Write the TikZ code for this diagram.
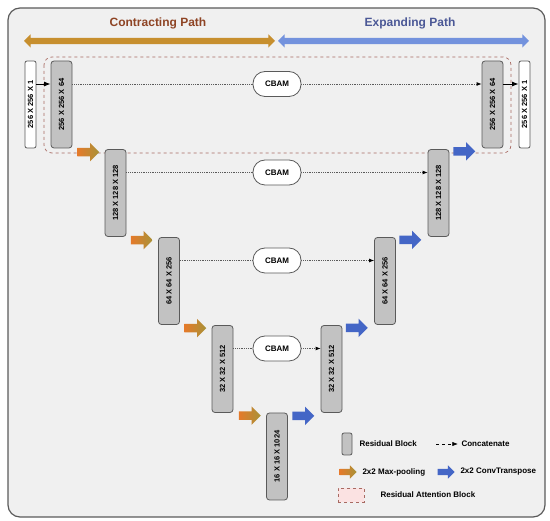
\documentclass[tikz,border=0pt]{standalone}
\usepackage{fontspec}
\setmainfont{Liberation Sans}
\usetikzlibrary{arrows.meta,positioning,shapes.arrows}
\definecolor{Fondo}{HTML}{F0F0F0}
\definecolor{Borde}{HTML}{5A5A5A}
\definecolor{Bloque}{HTML}{C2C2C2}
\definecolor{Naranja}{HTML}{E57A2A}
\definecolor{Oliva}{HTML}{A89238}
\definecolor{Azul}{HTML}{4466C6}
\definecolor{AzulClaro}{HTML}{7392DD}
\definecolor{Dorado}{HTML}{C78F2E}
\definecolor{Marron}{HTML}{8E4424}
\definecolor{AzulTitulo}{HTML}{4B5896}
\definecolor{Rosa}{HTML}{FBE2E2}
\definecolor{RojoAtencion}{HTML}{A86A62}

\begin{document}
\begin{tikzpicture}[
  x=1pt,y=-1pt,
  >=Latex,
  every node/.style={font=\bfseries\fontsize{7.5}{9}\selectfont},
  legend/.style={anchor=west,font=\bfseries\fontsize{8}{9}\selectfont},
  resblock/.style={draw=Borde,fill=Bloque,rounded corners=3pt,line width=0.8pt,
    minimum width=21pt,minimum height=87pt,inner sep=0pt},
  iobox/.style={resblock,fill=white,minimum width=11pt,rounded corners=2pt},
  cbam/.style={draw=Borde,fill=white,line width=0.8pt,rounded corners=12pt,
    minimum width=48pt,minimum height=25pt,inner sep=0pt,font=\bfseries\fontsize{8}{9}\selectfont},
  concat/.style={densely dotted,line width=0.8pt,draw=Borde,
    -{Latex[length=5pt,width=4pt,color=black]}},
  fatarrow/.style={single arrow,inner xsep=0pt,inner ysep=4pt,minimum height=22pt,
    single arrow head extend=5pt},
  pool/.style={fatarrow,left color=Naranja,right color=Oliva},
  upconv/.style={fatarrow,fill=Azul},
  pathbar/.style={double arrow,inner xsep=0pt,inner ysep=3pt,minimum height=251pt,
    double arrow head extend=3.5pt}
]
  \useasboundingbox (0,0) rectangle (550,521);
  \draw[rounded corners=12pt,line width=1.2pt,draw=Borde,fill=Fondo] (8,8) rectangle (545,517);

  % Titulos y flechas de los caminos.
  \node[font=\bfseries\fontsize{12}{14}\selectfont,text=Marron] (tcont) at (158,23) {Contracting Path};
  \node[font=\bfseries\fontsize{12}{14}\selectfont,text=AzulTitulo] (texp) at (410,23) {Expanding Path};
  \node[pathbar,fill=Dorado] (pcont) at (149.5,41) {};
  \node[pathbar,fill=AzulClaro] (pexp) at (403.5,41) {};

  % Bloque de atencion residual del primer nivel.
  \draw[dashed,draw=RojoAtencion,line width=0.7pt,rounded corners=8pt] (44,57) rectangle (511,153);

  % Camino de contraccion.
  \node[iobox,label={[rotate=90]center:256 X 256 X 1}] (in) at (30.5,104.5) {};
  \node[resblock,label={[rotate=90]center:256 X 256 X 64}] (b1) at (61.5,104.5) {};
  \node[resblock,label={[rotate=90]center:128 X 128 X 128}] (b2) at (115.5,193) {};
  \node[resblock,label={[rotate=90]center:64 X 64 X 256}] (b3) at (169,281) {};
  \node[resblock,label={[rotate=90]center:32 X 32 X 512}] (b4) at (222.5,369) {};
  \node[resblock,label={[rotate=90]center:16 X 16 X 1024}] (b5) at (277,456.5) {};

  % Camino de expansion.
  \node[resblock,label={[rotate=90]center:32 X 32 X 512}] (rb4) at (331.5,369) {};
  \node[resblock,label={[rotate=90]center:64 X 64 X 256}] (rb3) at (385,281) {};
  \node[resblock,label={[rotate=90]center:128 X 128 X 128}] (rb2) at (438.5,193) {};
  \node[resblock,label={[rotate=90]center:256 X 256 X 64}] (rb1) at (492.5,104.5) {};
  \node[iobox,label={[rotate=90]center:256 X 256 X 1}] (out) at (524.5,104.5) {};

  \node[pool,left=5pt of b2.north west,yshift=-3pt] (p1) {};
  \node[pool,left=5pt of b3.north west,yshift=-3pt] (p2) {};
  \node[pool,left=5pt of b4.north west,yshift=-3pt] (p3) {};
  \node[pool,left=5pt of b5.north west,yshift=-3pt] (p4) {};
  \node[upconv,left=6pt of rb4.south west,yshift=-3pt] (u4) {};
  \node[upconv,left=6pt of rb3.south west,yshift=-3pt] (u3) {};
  \node[upconv,left=6pt of rb2.south west,yshift=-3pt] (u2) {};
  \node[upconv,left=6pt of rb1.south west,yshift=-3pt] (u1) {};

  % Conexiones de salto con CBAM.
  \node[cbam] (cb1) at (277,84) {CBAM};
  \node[cbam] (cb2) at (277,172.5) {CBAM};
  \node[cbam] (cb3) at (277,260.5) {CBAM};
  \node[cbam] (cb4) at (277,348.5) {CBAM};
  \draw[concat,-] (b1.east |- cb1) -- (cb1.west);
  \draw[concat] (cb1.east) -- (rb1.west |- cb1);
  \draw[concat,-] (b2.east |- cb2) -- (cb2.west);
  \draw[concat] (cb2.east) -- (rb2.west |- cb2);
  \draw[concat,-] (b3.east |- cb3) -- (cb3.west);
  \draw[concat] (cb3.east) -- (rb3.west |- cb3);
  \draw[concat,-] (b4.east |- cb4) -- (cb4.west);
  \draw[concat] (cb4.east) -- (rb4.west |- cb4);
  \draw[->,line width=0.8pt,draw=black] (in.east |- cb1) -- (b1.west |- cb1);
  \draw[->,line width=0.8pt,draw=black] (rb1.east |- cb1) -- (out.west |- cb1);

  % Leyenda.
  \node[resblock,minimum width=10pt,minimum height=22pt,rounded corners=2pt] (lblock) at (347,444) {};
  \node[legend] (tblock) at (356,444) {Residual Block};
  \coordinate (lcat) at (436,444);
  \node[legend] (tcat) at (458,444) {Concatenate};
  \draw[dashed,line width=0.6pt,->] (lcat) -- (tcat.west);
  \node[pool,minimum height=17pt,inner ysep=3pt,single arrow head extend=3.5pt] (lpool) at (346.5,472) {};
  \node[legend] (tpool) at (359,472) {2x2 Max-pooling};
  \node[upconv,minimum height=17pt,inner ysep=3pt,single arrow head extend=3.5pt] (lup) at (444.5,472) {};
  \node[legend] (tup) at (457,472) {2x2 ConvTranspose};
  \node[draw=RojoAtencion,dashed,fill=Rosa,minimum width=26pt,minimum height=14pt,inner sep=0pt] (latt) at (351,495) {};
  \node[legend] (tatt) at (377,495) {Residual Attention Block};
\end{tikzpicture}
\end{document}
